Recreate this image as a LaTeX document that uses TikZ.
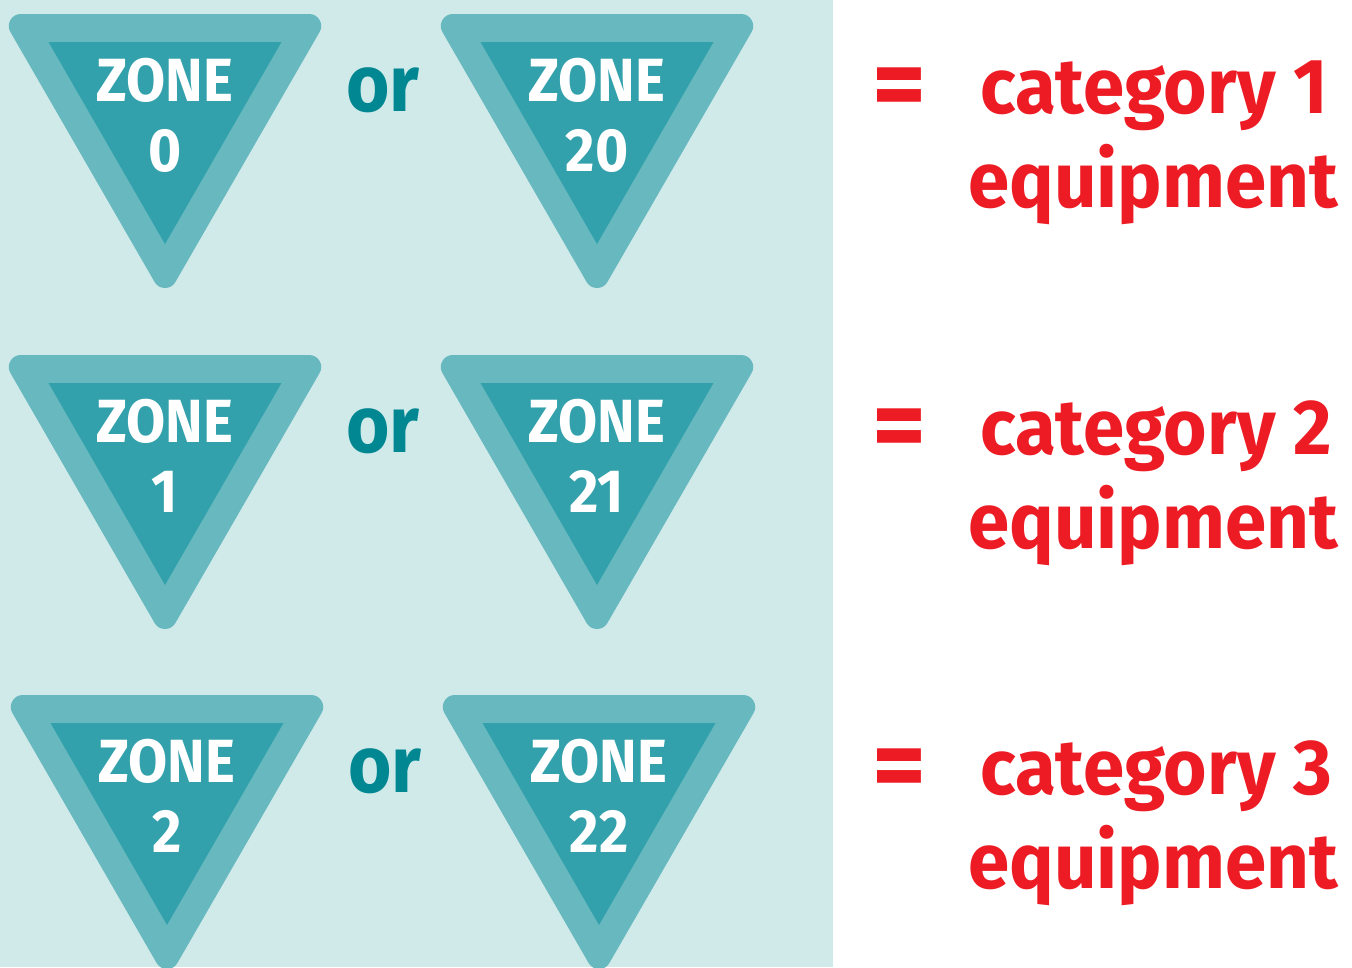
\documentclass[tikz,border=0pt]{standalone}
\usepackage{fontspec}
\setmainfont{Fira Sans}
\newfontfamily\firabold{Fira Sans Bold}[FakeStretch=0.93]
\newfontfamily\firared{Fira Sans Bold}[FakeStretch=0.955]
\newfontfamily\firaeq{Fira Sans Bold}
\definecolor{panelbg}{HTML}{D0EAEA}
\definecolor{outertri}{HTML}{68B9BF}
\definecolor{innertri}{HTML}{33A1AC}
\definecolor{ortext}{HTML}{008791}
\definecolor{redtext}{HTML}{ED1C24}
\tikzset{
  zonetxt/.style={text=white, font=\firabold\fontsize{61}{61}\selectfont, inner sep=0pt, anchor=base},
  ortxt/.style={text=ortext, font=\firabold\fontsize{80}{80}\selectfont, inner sep=0pt, anchor=base},
  cattxt/.style={text=redtext, font=\firared\fontsize{78}{78}\selectfont, inner sep=0pt, anchor=base west},
  eqtxt/.style={text=redtext, font=\firaeq\fontsize{104}{104}\selectfont, inner sep=0pt},
  outerfill/.style={fill=outertri, draw=outertri, line width=24pt, line join=round},
  innerfill/.style={fill=innertri}
}
\newcommand{\zonesign}[4]{% cx, ty, number, name
  \filldraw[outerfill] (#1-144.2,#2+12) -- (#1+144.2,#2+12) -- (#1,#2+262) -- cycle;
  \fill[innerfill] (#1-116.5,#2+28) -- (#1+116.5,#2+28) -- (#1,#2+230) -- cycle;
  \node[zonetxt] (#4z) at (#1,#2+87.5) {ZONE};
  \node[zonetxt] (#4n) at (#1,#2+157.5) {#3};
}
\begin{document}
\begin{tikzpicture}[x=1pt,y=-1pt]
\useasboundingbox (0,0) rectangle (1352,967);
\fill[panelbg] (0,0) rectangle (833,967);
% row 1
\zonesign{165}{14}{0}{za}
\zonesign{597}{14}{20}{zb}
\node[ortxt] (or1) at (383,111) {or};
\node[eqtxt] (eq1) at (899,94) {=};
\node[cattxt] (cat1) at (980,113) {category 1};
\node[cattxt] (equ1) at (968,207) {equipment};
% row 2
\zonesign{165}{355}{1}{zc}
\zonesign{597}{355}{21}{zd}
\node[ortxt] (or2) at (383,452) {or};
\node[eqtxt] (eq2) at (899,435) {=};
\node[cattxt] (cat2) at (980,454) {category 2};
\node[cattxt] (equ2) at (968,548) {equipment};
% row 3
\zonesign{167}{695}{2}{ze}
\zonesign{599}{695}{22}{zf}
\node[ortxt] (or3) at (385,792) {or};
\node[eqtxt] (eq3) at (899,775) {=};
\node[cattxt] (cat3) at (980,794) {category 3};
\node[cattxt] (equ3) at (968,888) {equipment};
\end{tikzpicture}
\end{document}
